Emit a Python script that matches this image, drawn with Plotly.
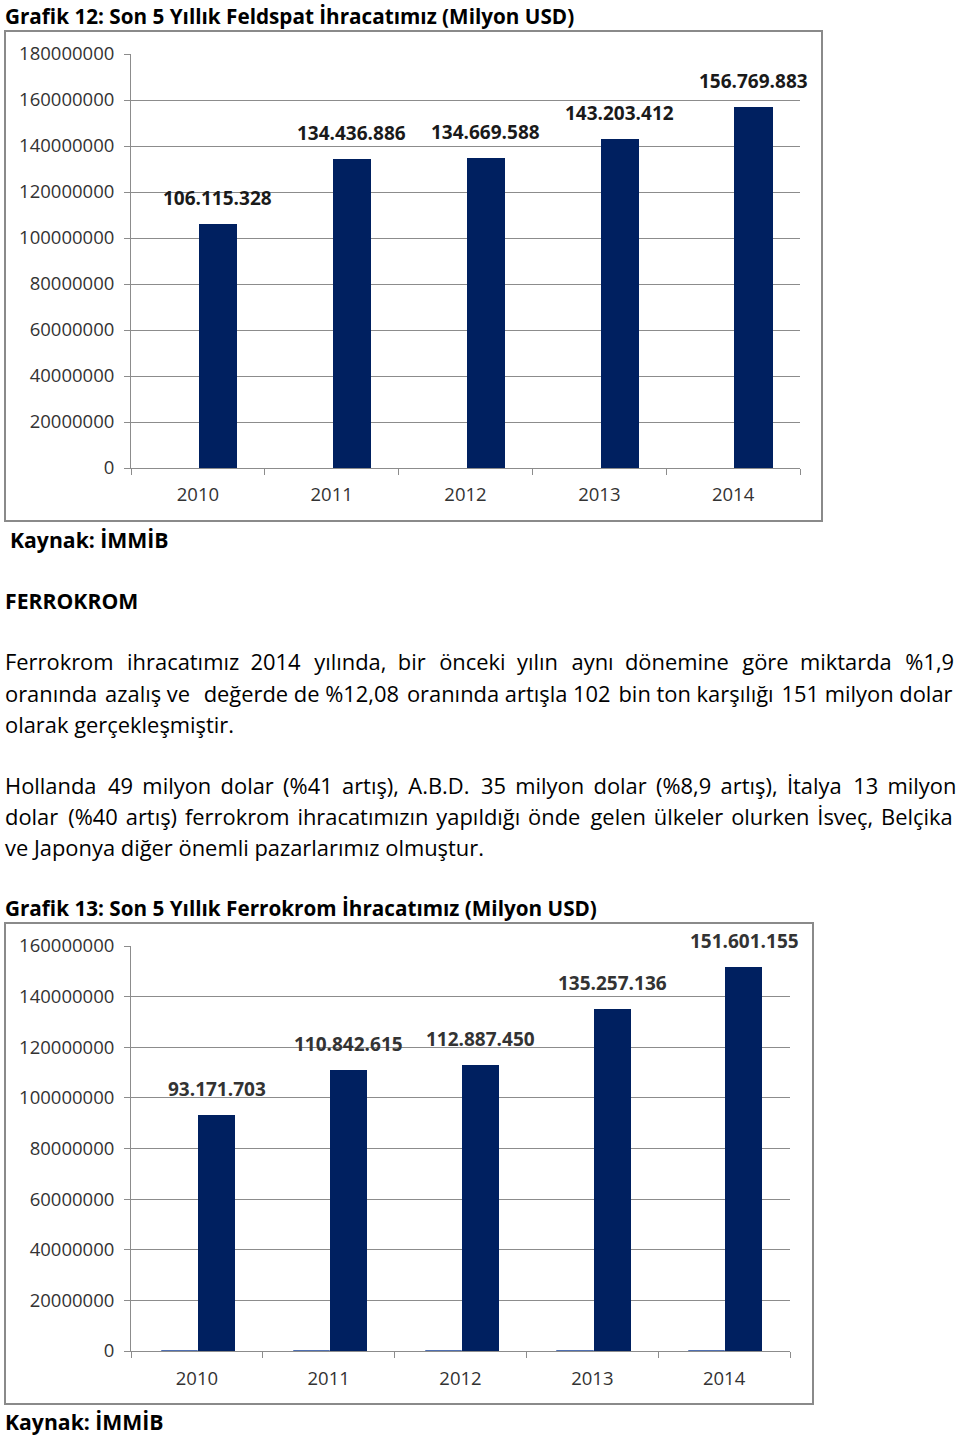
import plotly.graph_objects as go

W, H = 960, 1436

years = ["2010", "2011", "2012", "2013", "2014"]
feldspat_value = [106115328, 134436886, 134669588, 143203412, 156769883]
ferrokrom_value = [93171703, 110842615, 112887450, 135257136, 151601155]
ferrokrom_qty = [80000, 86000, 95000, 104000, 102000]  # thin near-zero series

title1 = "Grafik 12: Son 5 Yıllık Feldspat İhracatımız (Milyon USD)"
title2 = "Grafik 13: Son 5 Yıllık Ferrokrom İhracatımız (Milyon USD)"
source = "Kaynak: İMMİB"
heading = "FERROKROM"
para1 = [
    "Ferrokrom ihracatımız 2014 yılında, bir önceki yılın aynı dönemine göre miktarda %1,9",
    "oranında azalış ve  değerde de %12,08 oranında artışla 102 bin ton karşılığı 151 milyon dolar",
    "olarak gerçekleşmiştir.",
]
para2 = [
    "Hollanda 49 milyon dolar (%41 artış), A.B.D. 35 milyon dolar (%8,9 artış), İtalya 13 milyon",
    "dolar (%40 artış) ferrokrom ihracatımızın yapıldığı önde gelen ülkeler olurken İsveç, Belçika",
    "ve Japonya diğer önemli pazarlarımız olmuştur.",
]
# extra spacing used to imitate the justified paragraph lines: (every-gap extra, hair-space step)
para1_gap = [(" ", 2), ("", 3), ("", 0)]
para2_gap = [("\u2009", 6), ("\u200a", 6), ("", 0)]

FONT = "Open Sans, sans-serif"
BAR = "#002060"
GRID = "#8c8c8c"
TXT = "#1a1a1a"


def fx(x):
    return x / W


def fy(y):
    return 1 - y / H


fig = go.Figure()

fig.add_trace(go.Bar(x=years, y=feldspat_value, xaxis="x", yaxis="y",
                     marker=dict(color=BAR, line=dict(width=0)),
                     width=0.285, offset=0.01, hoverinfo="x+y"))
fig.add_trace(go.Bar(x=years, y=ferrokrom_qty, xaxis="x2", yaxis="y2",
                     marker=dict(color="#4f6fb0", line=dict(color="#4f6fb0", width=1)),
                     width=0.275, offset=-0.265, hoverinfo="x+y"))
fig.add_trace(go.Bar(x=years, y=ferrokrom_value, xaxis="x2", yaxis="y2",
                     marker=dict(color=BAR, line=dict(width=0)),
                     width=0.28, offset=0.01, hoverinfo="x+y"))

axis_common = dict(showline=True, linecolor=GRID, linewidth=1, ticks="outside",
                   ticklen=6, tickcolor=GRID, automargin=False,
                   tickfont=dict(family=FONT, size=18.5, color="#333333"))

fig.update_layout(
    width=W, height=H, margin=dict(l=0, r=0, t=0, b=0, pad=0, autoexpand=False),
    paper_bgcolor="white", plot_bgcolor="white", showlegend=False,
    separators=",.", bargap=0,
    xaxis=dict(domain=[fx(131), fx(800)], type="category", anchor="y", range=[-0.5, 4.5],
               tickson="boundaries", showgrid=False, ticklabelstandoff=10, **axis_common),
    yaxis=dict(domain=[fy(468), fy(54)], range=[0, 180e6], dtick=20e6, anchor="x",
               tickformat="d", showgrid=True, gridcolor=GRID, gridwidth=1,
               zeroline=False, ticklabelstandoff=6, **axis_common),
    xaxis2=dict(domain=[fx(131), fx(790)], type="category", anchor="y2", range=[-0.5, 4.5],
                tickson="boundaries", showgrid=False, ticklabelstandoff=11, **axis_common),
    yaxis2=dict(domain=[fy(1351), fy(946)], range=[0, 160e6], dtick=20e6, anchor="x2",
                tickformat="d", showgrid=True, gridcolor=GRID, gridwidth=1,
                zeroline=False, ticklabelstandoff=6, **axis_common),
)

ann = []
# data labels (x given as category index)
for i, v in enumerate(feldspat_value):
    ann.append(dict(x=i, y=v, xref="x", yref="y", xshift=20, yshift=11,
                    yanchor="bottom", showarrow=False,
                    text=f"{v:,}".replace(",", "."),
                    font=dict(family=FONT, size=19, color=TXT, weight="bold")))
for i, v in enumerate(ferrokrom_value):
    ann.append(dict(x=i, y=v, xref="x2", yref="y2", xshift=20, yshift=11,
                    yanchor="bottom", showarrow=False,
                    text=f"{v:,}".replace(",", "."),
                    font=dict(family=FONT, size=19, color="#333333", weight="bold")))


def text_at(x, y, s, size=21.9, bold=False):
    ann.append(dict(x=fx(x), y=fy(y), xref="paper", yref="paper", xanchor="left",
                    yanchor="middle", showarrow=False, text=s,
                    font=dict(family=FONT, size=size, color="black",
                              weight="bold" if bold else "normal")))


def spaced(line, gap):
    extra, step = gap
    words = line.split(" ")
    out = words[0]
    for k, w in enumerate(words[1:]):
        sep = " " + extra
        if step and k % step == 0:
            sep += "\u200a"
        out += sep + w
    return out


text_at(3, 16, title1, 20.7, True)
text_at(8, 539, source, 21.2, True)
text_at(3, 600, heading, 21.2, True)
for i, line in enumerate(para1):
    text_at(3, 662 + 31 * i, spaced(line, para1_gap[i]))
for i, line in enumerate(para2):
    text_at(3, 785 + 31 * i, spaced(line, para2_gap[i]))
text_at(3, 908, title2, 20.7, True)
text_at(3, 1421, source, 21.2, True)

fig.update_layout(annotations=ann)

shapes = [
    dict(type="rect", xref="paper", yref="paper", x0=fx(5), x1=fx(822), y0=fy(521), y1=fy(31),
         line=dict(color="#8a8a8a", width=2), layer="below"),
    dict(type="rect", xref="paper", yref="paper", x0=fx(5), x1=fx(813), y0=fy(1404), y1=fy(923),
         line=dict(color="#8a8a8a", width=2), layer="below"),
]
fig.update_layout(shapes=shapes)

fig.write_html("out.html")
